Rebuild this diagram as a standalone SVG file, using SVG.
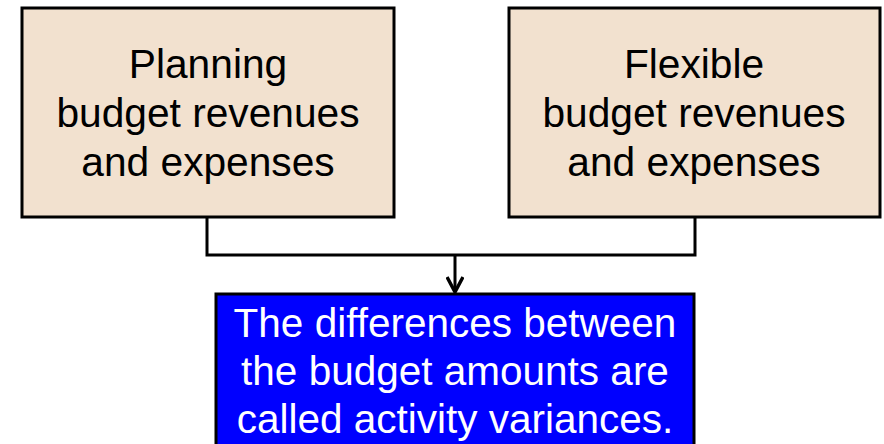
<svg xmlns="http://www.w3.org/2000/svg" width="884" height="444" viewBox="0 0 884 444">
  <defs>
    <style>
      .box { fill: #F2E1CF; stroke: #000; stroke-width: 3; }
      .note { fill: #0000FF; stroke: #000; stroke-width: 3; }
      .lbl { font-family: "Liberation Sans", Arial, sans-serif; font-size: 40.7px; text-anchor: middle; fill: #000; }
      .lbl-w { fill: #fff; font-size: 40.5px; }
      .wire { fill: none; stroke: #000; stroke-width: 3; }
    </style>
    <marker id="arrow" viewBox="0 0 18 18" refX="16" refY="9" markerWidth="18" markerHeight="18" markerUnits="userSpaceOnUse" orient="auto">
      <path d="M1,1 L16,9 L1,17" fill="none" stroke="#000" stroke-width="3.5"/>
    </marker>
  </defs>

  <g id="planning">
    <rect class="box" x="22" y="8" width="372" height="209"/>
    <text class="lbl" x="208" y="78">Planning</text>
    <text class="lbl" x="208" y="127">budget revenues</text>
    <text class="lbl" x="208" y="176">and expenses</text>
  </g>

  <g id="flexible">
    <rect class="box" x="509" y="8" width="371" height="209"/>
    <text class="lbl" x="694" y="78">Flexible</text>
    <text class="lbl" x="694" y="127">budget revenues</text>
    <text class="lbl" x="694" y="176">and expenses</text>
  </g>

  <g id="variances">
    <rect class="note" x="216" y="294" width="478" height="160"/>
    <text class="lbl lbl-w" x="455" y="337">The differences between</text>
    <text class="lbl lbl-w" x="455" y="385">the budget amounts are</text>
    <text class="lbl lbl-w" x="455" y="433">called activity variances.</text>
  </g>

  <g id="connectors">
    <path class="wire" d="M207,217 V255 H695 V217"/>
    <path class="wire" d="M455,255 V292" marker-end="url(#arrow)"/>
  </g>
</svg>
